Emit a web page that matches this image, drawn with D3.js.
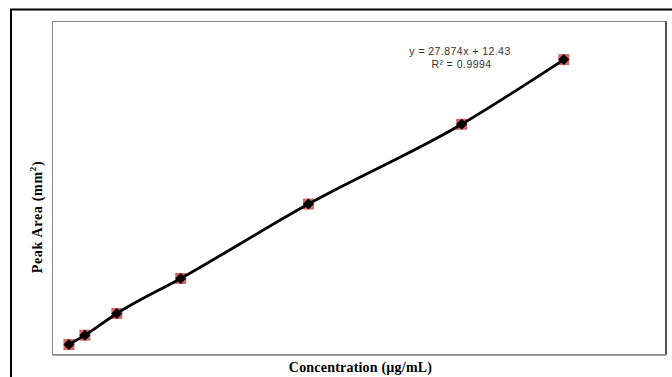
<!DOCTYPE html>
<html>
<head>
<meta charset="utf-8">
<script src="https://cdn.jsdelivr.net/npm/d3@7"></script>
<style>
  html, body { margin: 0; padding: 0; background: #fff; }
  svg { display: block; }
</style>
</head>
<body>
<svg id="chart" width="672" height="377"></svg>
<script>
// Data (no tick labels shown in the original)
const concentrations = [1, 2, 4, 8, 16, 25.6, 32];
const peakAreas = [40.4, 68.6, 134.5, 240.7, 466.3, 708.3, 904.4];
const equationLines = ["y = 27.874x + 12.43", "R\u00B2 = 0.9994"];
const xTitle = "Concentration (\u00B5g/mL)";
const yTitle = "Peak Area (mm";
const xDomain = [0, 38.4];
const yDomain = [10, 1020];

const svg = d3.select("#chart");
const W = 672, H = 377;
const plot = { left: 53, top: 21.5, right: 666, bottom: 354.5 };

const x = d3.scaleLinear().domain(xDomain).range([plot.left, plot.right]);
const y = d3.scaleLinear().domain(yDomain).range([plot.bottom, plot.top]);

// outer frame (extends past the right/bottom edges)
svg.append("rect")
  .attr("x", 11).attr("y", 9.5)
  .attr("width", W + 10).attr("height", H + 10)
  .attr("fill", "none").attr("stroke", "#000").attr("stroke-width", 2);

// plot area box
svg.append("rect")
  .attr("x", plot.left - 0.5).attr("y", plot.top)
  .attr("width", plot.right - plot.left + 0.5).attr("height", plot.bottom - plot.top)
  .attr("fill", "#fff").attr("stroke", "#8a8a8a").attr("stroke-width", 1);
// darker right edge, thicker bottom edge
svg.append("line")
  .attr("x1", plot.right).attr("x2", plot.right)
  .attr("y1", plot.top).attr("y2", plot.bottom)
  .attr("stroke", "#111").attr("stroke-width", 1.3);
svg.append("line")
  .attr("x1", plot.left - 0.5).attr("x2", plot.right)
  .attr("y1", plot.bottom + 0.3).attr("y2", plot.bottom + 0.3)
  .attr("stroke", "#8a8a8a").attr("stroke-width", 1.8);

// axes (no ticks or labels in the original) built from scales
const xAxis = d3.axisBottom(x).tickValues([]).tickSize(0);
const yAxis = d3.axisLeft(y).tickValues([]).tickSize(0);
svg.append("g").attr("transform", `translate(0,${plot.bottom})`).call(xAxis)
  .select(".domain").attr("stroke", "none");
svg.append("g").attr("transform", `translate(${plot.left},0)`).call(yAxis)
  .select(".domain").attr("stroke", "none");

const data = concentrations.map((c, i) => ({ c, a: peakAreas[i] }));

// red square markers (behind)
svg.append("g").selectAll("rect")
  .data(data).join("rect")
  .attr("x", d => x(d.c) - 5.5).attr("y", d => y(d.a) - 5.5)
  .attr("width", 11).attr("height", 11)
  .attr("fill", "#c9403e").attr("opacity", 0.8);

// smooth line
const line = d3.line().x(d => x(d.c)).y(d => y(d.a)).curve(d3.curveMonotoneX);
svg.append("path").datum(data)
  .attr("d", line).attr("fill", "none")
  .attr("stroke", "#000").attr("stroke-width", 2.8)
  .attr("stroke-linejoin", "round");

// black diamond markers
svg.append("g").selectAll("path")
  .data(data).join("path")
  .attr("transform", d => `translate(${x(d.c)},${y(d.a)})`)
  .attr("d", "M0,-5.5L5.5,0L0,5.5L-5.5,0Z")
  .attr("fill", "#000");

// trendline equation
const eqX = 460;
svg.append("text").attr("x", eqX).attr("y", 55)
  .attr("text-anchor", "middle")
  .attr("font-family", "Liberation Sans, Arial, sans-serif")
  .attr("font-size", 10.5).attr("fill", "#333")
  .attr("letter-spacing", 0.45)
  .text(equationLines[0]);
svg.append("text").attr("x", eqX + 1.5).attr("y", 67.5)
  .attr("text-anchor", "middle")
  .attr("font-family", "Liberation Sans, Arial, sans-serif")
  .attr("font-size", 10.5).attr("fill", "#333")
  .attr("letter-spacing", 0.45)
  .text(equationLines[1]);

// x title
svg.append("text")
  .attr("x", 360.5).attr("y", 371.5)
  .attr("text-anchor", "middle")
  .attr("font-family", "Liberation Serif, Times New Roman, serif")
  .attr("font-weight", "bold").attr("font-size", 14).attr("fill", "#000")
  .attr("letter-spacing", 0.2)
  .text(xTitle);

// y title (rotated)
const yt = svg.append("text")
  .attr("transform", "translate(42,217) rotate(-90)")
  .attr("text-anchor", "middle")
  .attr("font-family", "Liberation Serif, Times New Roman, serif")
  .attr("font-weight", "bold").attr("font-size", 14).attr("fill", "#000")
  .attr("letter-spacing", 0.7);
yt.append("tspan").text(yTitle);
yt.append("tspan").attr("dy", -6).attr("font-size", 9).text("2");
yt.append("tspan").attr("dy", 6).text(")");
</script>
</body>
</html>
